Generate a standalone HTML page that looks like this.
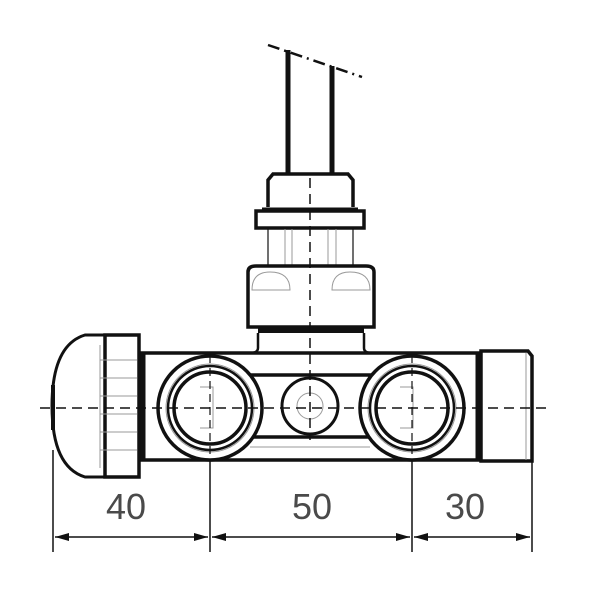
<!DOCTYPE html>
<html><head><meta charset="utf-8"><style>body{margin:0;background:#fff}svg{display:block}</style></head><body>
<svg width="600" height="600" viewBox="0 0 600 600" xmlns="http://www.w3.org/2000/svg">
<defs>
<marker id="a" markerWidth="14" markerHeight="8" refX="14" refY="4" orient="auto" markerUnits="userSpaceOnUse"><path d="M0,0 L14,4 L0,8 Z" fill="#111"/></marker>
<marker id="b" markerWidth="14" markerHeight="8" refX="0" refY="4" orient="auto" markerUnits="userSpaceOnUse"><path d="M14,0 L0,4 L14,8 Z" fill="#111"/></marker>
</defs>
<g fill="none" stroke="#111">
<line x1="268" y1="45" x2="362" y2="77" stroke-width="2.5" stroke-dasharray="12,5,2,5"/>
<line x1="288" y1="50" x2="288" y2="174" stroke-width="5"/>
<line x1="332" y1="66" x2="332" y2="174" stroke-width="5"/>
<path d="M268,207 L268,180 L273,174 L348,174 L353,180 L353,207" stroke-width="3.5" fill="#fff"/>
<rect x="256" y="211" width="108" height="17" stroke-width="3.5" fill="#fff"/>
<line x1="262" y1="209" x2="358" y2="209" stroke-width="3"/>
<line x1="268" y1="229" x2="268" y2="265" stroke-width="1.2"/>
<line x1="353" y1="229" x2="353" y2="265" stroke-width="1.2"/>
<g stroke="#999" stroke-width="1"><line x1="285" y1="229" x2="285" y2="265"/><line x1="292" y1="229" x2="292" y2="265"/><line x1="328" y1="229" x2="328" y2="265"/><line x1="336" y1="229" x2="336" y2="265"/></g>
<path d="M248,327 L248,272 Q248,266 256,266 L366,266 Q374,266 374,272 L374,327 Z" stroke-width="3.5" fill="#fff"/>
<path d="M252,290 Q252,272 270,272 Q290,272 290,290 Z M332,290 Q332,272 350,272 Q370,272 370,290 Z" stroke="#999" stroke-width="1"/>
<rect x="258" y="327" width="106" height="6" fill="#111" stroke="none"/>
<path d="M258,333 L258,348 Q258,353 250,353 M364,333 L364,348 Q364,353 372,353" stroke-width="2.5"/>
<rect x="141" y="353" width="339" height="107" stroke-width="3.5" fill="#fff"/>
<line x1="143" y1="354" x2="143" y2="460" stroke-width="5"/>
<line x1="478" y1="354" x2="478" y2="460" stroke-width="5"/>
<rect x="250" y="375" width="120" height="62" stroke-width="3.5"/>
<line x1="250" y1="447" x2="370" y2="447" stroke="#999" stroke-width="1"/>
<g fill="#fff">
<circle cx="210" cy="408" r="52" stroke-width="3.5"/>
<circle cx="210" cy="408" r="44" stroke-width="1" stroke="#999"/>
<circle cx="210" cy="408" r="42" stroke-width="2.5"/>
<circle cx="210" cy="408" r="36" stroke-width="3.5"/>
<circle cx="412" cy="408" r="52" stroke-width="3.5"/>
<circle cx="412" cy="408" r="44" stroke-width="1" stroke="#999"/>
<circle cx="412" cy="408" r="42" stroke-width="2.5"/>
<circle cx="412" cy="408" r="36" stroke-width="3.5"/>
<circle cx="310" cy="406" r="28" stroke-width="3"/>
<circle cx="310" cy="406" r="13" stroke-width="1" stroke="#999"/>
</g>
<path d="M200,387 L213,387 L213,428 L200,428 M400,387 L413,387 L413,428 L400,428" stroke="#999" stroke-width="1"/>
<path d="M105,335 L85,335 Q52,345 52,406 Q52,467 85,477 L105,477" stroke-width="3" fill="#fff"/>
<line x1="53" y1="385" x2="53" y2="430" stroke-width="4"/>
<rect x="105" y="335" width="34" height="142" stroke-width="3.5" fill="#fff"/>
<g stroke="#999" stroke-width="1"><line x1="100" y1="345" x2="100" y2="468"/><line x1="100" y1="360" x2="137" y2="360"/><line x1="100" y1="378" x2="137" y2="378"/><line x1="100" y1="396" x2="137" y2="396"/><line x1="100" y1="414" x2="137" y2="414"/><line x1="100" y1="432" x2="137" y2="432"/><line x1="100" y1="450" x2="137" y2="450"/></g>
<path d="M481,351 L528,351 L532,356 L532,461 L481,461 Z" stroke-width="3.5" fill="#fff"/>
<line x1="526" y1="353" x2="526" y2="460" stroke="#999" stroke-width="1"/>
<line x1="40" y1="408" x2="548" y2="408" stroke-width="1.5" stroke-dasharray="10,6"/>
<line x1="310" y1="178" x2="310" y2="440" stroke-width="1.5" stroke-dasharray="10,6"/>
<line x1="210" y1="355" x2="210" y2="460" stroke-width="1.2" stroke-dasharray="8,5"/>
<line x1="412" y1="355" x2="412" y2="460" stroke-width="1.2" stroke-dasharray="8,5"/>
<g stroke-width="1.5">
<line x1="53" y1="450" x2="53" y2="552"/>
<line x1="210" y1="460" x2="210" y2="552"/>
<line x1="412" y1="460" x2="412" y2="552"/>
<line x1="532" y1="461" x2="532" y2="552"/>
<line x1="55" y1="537" x2="208" y2="537" marker-start="url(#b)" marker-end="url(#a)"/>
<line x1="212" y1="537" x2="410" y2="537" marker-start="url(#b)" marker-end="url(#a)"/>
<line x1="414" y1="537" x2="530" y2="537" marker-start="url(#b)" marker-end="url(#a)"/>
</g>
</g>
<g font-family="Liberation Sans, sans-serif" font-size="36" fill="#4a4a4a" text-anchor="middle">
<text x="126" y="519">40</text>
<text x="312" y="519">50</text>
<text x="465" y="519">30</text>
</g>
</svg>
</body></html>
